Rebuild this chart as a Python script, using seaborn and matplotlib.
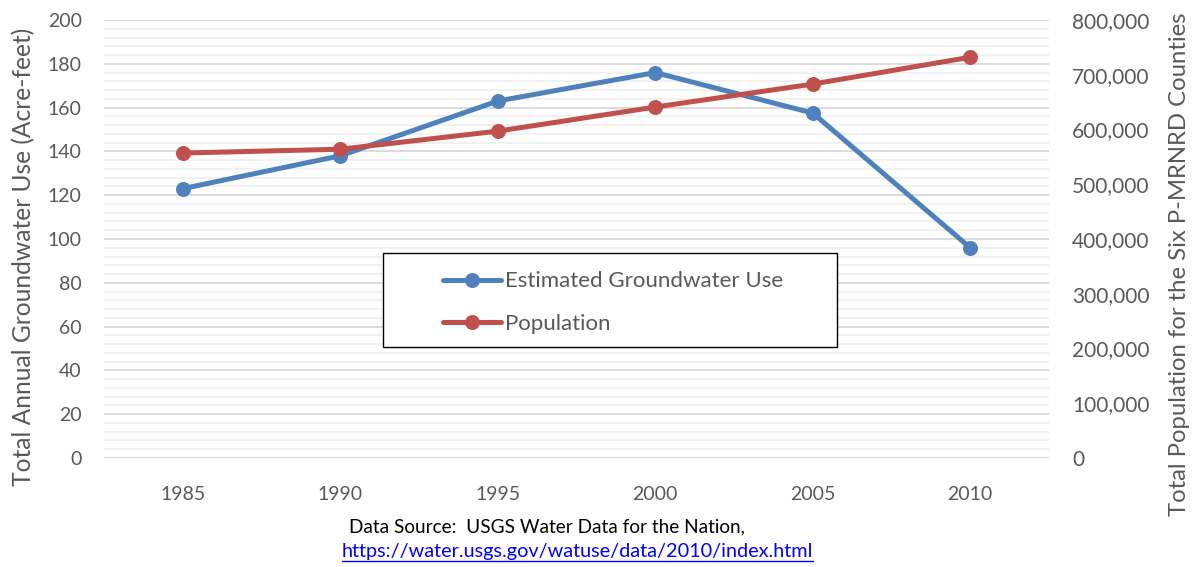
import pandas as pd
import matplotlib.pyplot as plt
from matplotlib.patches import Rectangle
from matplotlib.ticker import MultipleLocator, FuncFormatter
import seaborn as sns

years = ["1985", "1990", "1995", "2000", "2005", "2010"]
groundwater = [123, 138, 163, 176, 157.5, 96]
population = [557000, 564000, 597000, 641000, 683000, 732000]

data = pd.DataFrame({"year": years, "gw": groundwater, "pop": population})

sns.set_style("white")
plt.rcParams['font.family'] = ['Lato', 'DejaVu Sans']

blue = "#4F81BD"
red = "#C0504D"
grey = "#595959"

W, H = 1193, 567
fig, ax = plt.subplots(figsize=(W / 100, H / 100), dpi=100)
fig.subplots_adjust(left=104/W, right=1049/W, top=1-20/H, bottom=1-458/H)

sns.lineplot(data=data, x="year", y="gw", ax=ax, color=blue, linewidth=3.6,
             marker="o", markersize=10.8, markeredgewidth=0, sort=False,
             label="Estimated Groundwater Use", legend=False)
ax2 = ax.twinx()
sns.lineplot(data=data, x="year", y="pop", ax=ax2, color=red, linewidth=3.6,
             marker="o", markersize=10.8, markeredgewidth=0, sort=False,
             label="Population", legend=False)

ax.set_xlim(-0.5, 5.5)
ax.set_ylim(0, 200)
ax2.set_ylim(0, 800000)
ax.yaxis.set_major_locator(MultipleLocator(20))
ax.yaxis.set_minor_locator(MultipleLocator(4))
ax2.yaxis.set_major_locator(MultipleLocator(100000))
ax2.yaxis.set_major_formatter(FuncFormatter(lambda v, p: f"{int(v):,}"))

ax.grid(True, which="major", axis="y", color="#D9D9D9", linewidth=1.3)
ax.grid(True, which="minor", axis="y", color="#F0F0F0", linewidth=1.3)
ax.set_axisbelow(True)

for a in (ax, ax2):
    for s in a.spines.values():
        s.set_visible(False)
    a.tick_params(length=0, which="both", labelsize=14, labelcolor=grey)
ax.tick_params(axis="y", pad=16)
ax.tick_params(axis="x", pad=20)
ax2.tick_params(axis="y", pad=16.5, labelsize=15)

ax.set_xlabel("")
ax.set_ylabel("Total Annual Groundwater Use (Acre-feet)", fontsize=16.5, color=grey)
ax2.set_ylabel("Total Population for the Six P-MRNRD Counties", fontsize=17, color=grey)

# legend box
fig.add_artist(Rectangle((383/W, 1-347/H), 454/W, 94/H, transform=fig.transFigure,
                         facecolor="white", edgecolor="black", linewidth=1.0, zorder=5))
h1, l1 = ax.get_legend_handles_labels()
h2, l2 = ax2.get_legend_handles_labels()
leg = fig.legend(h1 + h2, l1 + l2, loc="center left",
                 bbox_to_anchor=(443/W, 1-302.5/H), frameon=False,
                 fontsize=16, handlelength=2.6, handletextpad=0.2,
                 borderpad=0, labelspacing=1.0, borderaxespad=0)
leg.set_zorder(6)
for t in leg.get_texts():
    t.set_color(grey)

fig.text(349/W, 1-527/H, "Data Source:  USGS Water Data for the Nation,",
         fontsize=13.7, color="black", va="center")
link = fig.text(342/W, 1-551/H, "https://water.usgs.gov/watuse/data/2010/index.html",
                fontsize=14.3, color="#0000FF", va="center",
                url="https://water.usgs.gov/watuse/data/2010/index.html")

# size the axis titles to the lengths seen in the reference, then place them
fig.canvas.draw()
for lab, target, xc, yc in [(ax.yaxis.label, 459, 24, 257),
                            (ax2.yaxis.label, 505, 1180, 264)]:
    cur = lab.get_window_extent().height
    lab.set_fontsize(lab.get_fontsize() * target / cur)
    lab.set_ha("center")
    lab.set_va("center")
ax.yaxis.set_label_coords((24 - 104) / 945, (458 - 257) / 438)
ax2.yaxis.set_label_coords((1180 - 104) / 945, (458 - 264) / 438)

fig.canvas.draw()
bb = link.get_window_extent()
fig.add_artist(plt.Line2D([bb.x0 / W, bb.x1 / W], [1-561/H, 1-561/H],
                          color="#0000FF", linewidth=1))

fig.savefig("out.png", dpi=100)
